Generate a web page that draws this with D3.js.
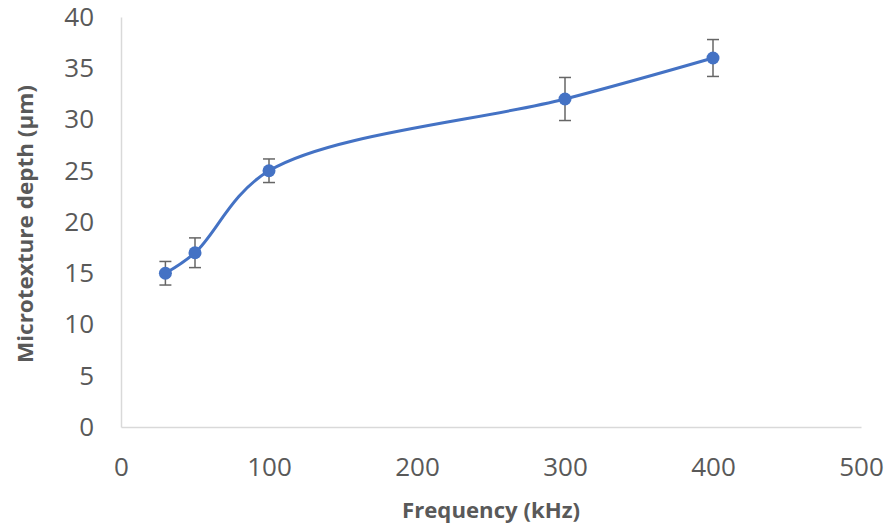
<!DOCTYPE html>
<html>
<head>
<meta charset="utf-8">
<script src="https://cdn.jsdelivr.net/npm/d3@7"></script>
<style>
  html, body { margin: 0; padding: 0; background: #fff; }
  svg { display: block; }
</style>
</head>
<body>
<svg id="chart" width="888" height="529"></svg>
<script>
const frequency = [30, 50, 100, 300, 400];
const depth = [15, 17, 25, 32, 36];
const errorBar = [1.15, 1.45, 1.15, 2.1, 1.8];
const xTicks = [0, 100, 200, 300, 400, 500];
const yTicks = [0, 5, 10, 15, 20, 25, 30, 35, 40];
const xTitle = "Frequency (kHz)";
const yTitle = "Microtexture depth (\u00b5m)";

const svg = d3.select("#chart");
const margin = { left: 121, right: 27, top: 17, bottom: 102 };
const W = 888, H = 529;
const x = d3.scaleLinear().domain([0, 500]).range([margin.left, W - margin.right]);
const y = d3.scaleLinear().domain([0, 40]).range([H - margin.bottom, margin.top]);

const tickFont = "'Open Sans', 'Liberation Sans', sans-serif";
const tickColor = "#595959";
const axisColor = "#d9d9d9";

// axes
const xAxis = svg.append("g").attr("transform", `translate(0,${y(0)})`)
  .call(d3.axisBottom(x).tickValues(xTicks).tickSize(0).tickPadding(30));
xAxis.select(".domain").attr("stroke", axisColor).attr("stroke-width", 1.5);
xAxis.selectAll("text").attr("font-family", tickFont).attr("font-size", 26)
  .attr("fill", tickColor).attr("dy", "0.71em").attr("y", 31);

const yAxis = svg.append("g").attr("transform", `translate(${x(0)},0)`)
  .call(d3.axisLeft(y).tickValues(yTicks).tickSize(0).tickPadding(27));
yAxis.select(".domain").attr("stroke", axisColor).attr("stroke-width", 1.5);
yAxis.selectAll("text").attr("font-family", tickFont).attr("font-size", 26)
  .attr("fill", tickColor);

// titles
svg.append("text").attr("x", (x(0) + x(500)) / 2).attr("y", 518)
  .attr("text-anchor", "middle").attr("font-family", tickFont)
  .attr("font-weight", "bold").attr("font-size", 21).attr("fill", tickColor)
  .attr("textLength", 178).attr("lengthAdjust", "spacingAndGlyphs")
  .text(xTitle);

svg.append("text")
  .attr("transform", `translate(33,${(y(0) + y(40)) / 2 + 2}) rotate(-90)`)
  .attr("text-anchor", "middle").attr("font-family", tickFont)
  .attr("font-weight", "bold").attr("font-size", 21).attr("fill", tickColor)
  .attr("textLength", 278).attr("lengthAdjust", "spacingAndGlyphs")
  .text(yTitle);

// data
const data = frequency.map((f, i) => ({ f, d: depth[i], e: errorBar[i] }));

const line = d3.line().x(p => x(p.f)).y(p => y(p.d)).curve(d3.curveCatmullRom.alpha(0.5));
svg.append("path").datum(data).attr("d", line)
  .attr("fill", "none").attr("stroke", "#4472C4").attr("stroke-width", 3);

// error bars
const eb = svg.append("g").attr("stroke", "#666666").attr("stroke-width", 1.5);
data.forEach(p => {
  eb.append("line").attr("x1", x(p.f)).attr("x2", x(p.f)).attr("y1", y(p.d - p.e)).attr("y2", y(p.d + p.e));
  eb.append("line").attr("x1", x(p.f) - 6).attr("x2", x(p.f) + 6).attr("y1", y(p.d + p.e)).attr("y2", y(p.d + p.e));
  eb.append("line").attr("x1", x(p.f) - 6).attr("x2", x(p.f) + 6).attr("y1", y(p.d - p.e)).attr("y2", y(p.d - p.e));
});

svg.append("g").selectAll("circle").data(data).join("circle")
  .attr("cx", p => x(p.f)).attr("cy", p => y(p.d)).attr("r", 6.5)
  .attr("fill", "#4472C4");
</script>
</body>
</html>
